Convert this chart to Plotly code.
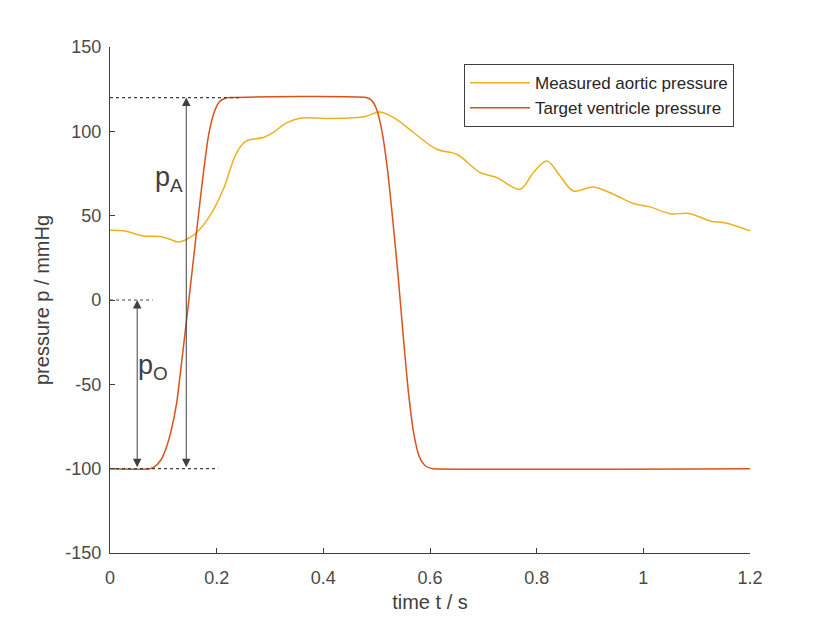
import plotly.graph_objects as go

# Measured aortic pressure (yellow)
t_aortic = [0.0, 0.025, 0.0625, 0.094, 0.1125, 0.128, 0.144, 0.1625, 0.1875, 0.2125,
            0.2375, 0.256, 0.2875, 0.306, 0.331, 0.356, 0.406, 0.456, 0.481, 0.506,
            0.5375, 0.569, 0.6125, 0.65, 0.694, 0.725, 0.769, 0.794, 0.819, 0.844,
            0.869, 0.906, 0.944, 0.981, 1.0125, 1.05, 1.0875, 1.125, 1.156, 1.2]
p_aortic = [41.3, 41.0, 38.0, 37.6, 36.0, 34.4, 36.0, 40.0, 50.0, 65.7,
            87.4, 94.3, 96.3, 99.3, 105.0, 107.8, 107.6, 108.0, 109.0, 111.5,
            107.0, 99.3, 89.4, 86.4, 75.6, 72.6, 65.7, 75.6, 82.4, 73.5,
            64.6, 67.0, 62.7, 57.2, 55.2, 51.2, 51.2, 46.9, 45.5, 41.0]

# Target ventricle pressure (orange-red)
t_target = [0.0, 0.075, 0.085, 0.095, 0.105, 0.115, 0.125, 0.135, 0.145, 0.155,
            0.165, 0.175, 0.185, 0.195, 0.205, 0.215, 0.225,
            0.48, 0.49, 0.50, 0.51, 0.52, 0.53, 0.54, 0.55, 0.56, 0.57, 0.58,
            0.59, 0.60, 0.605, 1.2]
p_target = [-100, -100, -98.5, -95, -88, -77, -61, -35, -8, 20,
            48, 75, 98, 111, 117.5, 119.5, 120,
            120, 118.5, 113, 100, 78, 48, 15, -22, -56, -80, -93,
            -98, -99.7, -100, -100]

# Reference levels and annotation geometry (data units)
p_max = 120
p_zero = 0
p_min = -100
ref_x_end_max = 0.244
ref_x_end_zero = 0.08
ref_x_end_min = 0.203
arrow_x_A = 0.143
arrow_x_O = 0.051

ink = "#404040"
fig = go.Figure()

fig.add_trace(go.Scatter(x=t_aortic, y=p_aortic, mode="lines", line_shape="spline",
                         name="Measured aortic pressure",
                         line=dict(color="#EDB120", width=1.5)))
fig.add_trace(go.Scatter(x=t_target, y=p_target, mode="lines", line_shape="spline",
                         name="Target ventricle pressure",
                         line=dict(color="#D95319", width=1.5, smoothing=0.6)))

for yv, xe in [(p_max, ref_x_end_max), (p_zero, ref_x_end_zero), (p_min, ref_x_end_min)]:
    fig.add_trace(go.Scatter(x=[0, xe], y=[yv, yv], mode="lines", showlegend=False,
                             hoverinfo="skip",
                             line=dict(color=ink, width=1.2, dash="dot")))

for xa, ytop in [(arrow_x_A, p_max), (arrow_x_O, p_zero)]:
    fig.add_annotation(x=xa, y=ytop, ax=xa, ay=p_min, xref="x", yref="y",
                       axref="x", ayref="y", text="", showarrow=True,
                       arrowhead=2, arrowside="end+start", arrowsize=1.7,
                       arrowwidth=1, arrowcolor=ink)

fig.add_annotation(x=0.11, y=72, xref="x", yref="y", text="p<sub>A</sub>",
                   showarrow=False, font=dict(size=27, color=ink, family="Liberation Sans"))
fig.add_annotation(x=0.081, y=-40, xref="x", yref="y", text="p<sub>O</sub>",
                   showarrow=False, font=dict(size=27, color=ink, family="Liberation Sans"))

axis_common = dict(showgrid=False, zeroline=False, showline=True, linecolor=ink,
                   linewidth=1.2, ticks="inside", ticklen=5, tickcolor=ink,
                   tickwidth=1.2, tickfont=dict(size=18, color="#4a4a4a"), mirror=False)

fig.update_xaxes(range=[0, 1.2], tickvals=[0, 0.2, 0.4, 0.6, 0.8, 1.0, 1.2],
                 ticktext=["0", "0.2", "0.4", "0.6", "0.8", "1", "1.2"],
                 title=dict(text="time t / s", font=dict(size=20, color=ink), standoff=8),
                 ticklabelstandoff=8, **axis_common)
fig.update_yaxes(range=[-150, 150], tickvals=[-150, -100, -50, 0, 50, 100, 150],
                 ticktext=["-150", "-100", "-50", "0", "50", "100", "150"],
                 title=dict(text="pressure p / mmHg", font=dict(size=20, color=ink), standoff=10),
                 ticklabelstandoff=4, **axis_common)

fig.update_layout(
    width=830, height=623,
    margin=dict(l=102, r=88, t=39, b=78, autoexpand=False),
    plot_bgcolor="white", paper_bgcolor="white",
    font=dict(family="Liberation Sans", color=ink),
    legend=dict(x=0.975, y=0.966, xanchor="right", yanchor="top",
                bgcolor="white", bordercolor=ink, borderwidth=1,
                font=dict(size=17, color="#262626"), itemwidth=60,
                tracegroupgap=0),
)

fig.write_html("out.html")
